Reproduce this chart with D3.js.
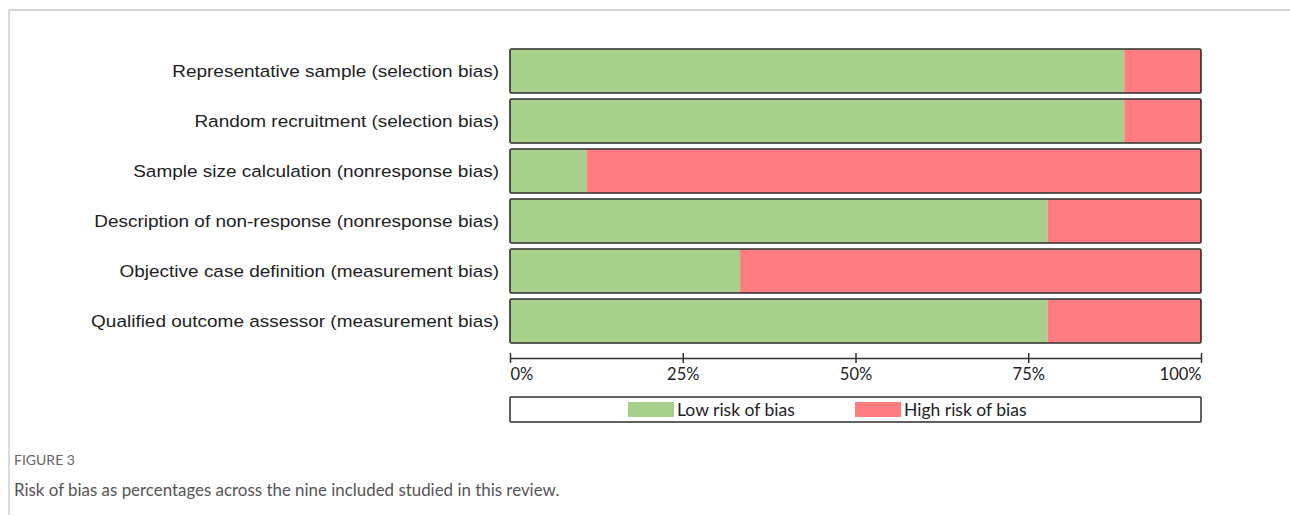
<!DOCTYPE html>
<html>
<head>
<meta charset="utf-8">
<script src="https://cdn.jsdelivr.net/npm/d3@7"></script>
<style>
  html, body { margin: 0; padding: 0; background: #fff; }
  svg { display: block; }
</style>
</head>
<body>
<svg id="chart" width="1290" height="515"></svg>
<script>
const categories = [
  "Representative sample (selection bias)",
  "Random recruitment (selection bias)",
  "Sample size calculation (nonresponse bias)",
  "Description of non-response (nonresponse bias)",
  "Objective case definition (measurement bias)",
  "Qualified outcome assessor (measurement bias)"
];
const lowRisk = [88.9, 88.9, 11.1, 77.8, 33.3, 77.8];
const highRisk = [11.1, 11.1, 88.9, 22.2, 66.7, 22.2];
const tickValues = [0, 25, 50, 75, 100];
const tickLabels = ["0%", "25%", "50%", "75%", "100%"];
const legendLabels = ["Low risk of bias", "High risk of bias"];
const colors = ["#a8d08d", "#ff7c80"];
const captionTitle = "FIGURE 3";
const captionText = "Risk of bias as percentages across the nine included studied in this review.";

const svg = d3.select("#chart");

// frame lines
svg.append("line").attr("x1", 9).attr("x2", 1290).attr("y1", 10).attr("y2", 10)
  .attr("stroke", "#c4c4c4").attr("stroke-width", 1.5);
svg.append("line").attr("x1", 9).attr("x2", 9).attr("y1", 10).attr("y2", 515)
  .attr("stroke", "#cfcfcf").attr("stroke-width", 1.5);

const x = d3.scaleLinear().domain([0, 100]).range([510, 1201]);
const y = d3.scaleBand().domain(categories).range([46, 346]).paddingInner(0.12).paddingOuter(0.06);

const rows = categories.map((c, i) => ({ cat: c, segs: [
  { start: 0, end: lowRisk[i], color: colors[0] },
  { start: lowRisk[i], end: lowRisk[i] + highRisk[i], color: colors[1] }
]}));

const g = svg.append("g");
const row = g.selectAll("g.row").data(rows).join("g").attr("class", "row");

row.selectAll("rect.seg").data(d => d.segs.map(s => ({ ...s, cat: d.cat })))
  .join("rect").attr("class", "seg")
  .attr("x", d => x(d.start))
  .attr("width", d => x(d.end) - x(d.start))
  .attr("y", d => y(d.cat))
  .attr("height", y.bandwidth())
  .attr("fill", d => d.color);

row.append("rect")
  .attr("x", x(0)).attr("width", x(100) - x(0))
  .attr("y", d => y(d.cat)).attr("height", y.bandwidth())
  .attr("fill", "none").attr("stroke", "#2e2e2e").attr("stroke-width", 1.6)
  .attr("rx", 1.5);

row.append("text")
  .attr("x", 499)
  .attr("y", d => y(d.cat) + y.bandwidth() / 2)
  .attr("dy", "0.35em")
  .attr("text-anchor", "end")
  .attr("font-family", "Liberation Sans, Arial, sans-serif")
  .attr("font-size", 16.8)
  .attr("fill", "#1e1e1e")
  .text(d => d.cat)
  .each(function() {
    const w = this.getComputedTextLength();
    d3.select(this).attr("textLength", w * 1.13).attr("lengthAdjust", "spacingAndGlyphs");
  });

// axis
const axisY = 358;
const axis = d3.axisBottom(x).tickValues(tickValues).tickSize(0)
  .tickFormat((d, i) => tickLabels[i]);
const ag = svg.append("g").attr("transform", `translate(0,${axisY})`).call(axis);
ag.select(".domain").attr("stroke", "#333").attr("stroke-width", 1.5);
ag.selectAll(".tick").append("line").attr("y1", -5).attr("y2", 5)
  .attr("stroke", "#333").attr("stroke-width", 1.5);
ag.selectAll(".tick text")
  .attr("y", 22).attr("dy", "0")
  .attr("font-family", "Lato, sans-serif").attr("font-size", 16.5).attr("fill", "#222")
  .attr("text-anchor", (d, i) => i === 0 ? "start" : (i === tickValues.length - 1 ? "end" : "middle"))
  .attr("dx", (d, i) => i === 0 ? 0 : (i === tickValues.length - 1 ? 0 : 0));

// legend
svg.append("rect").attr("x", x(0)).attr("y", 397).attr("width", x(100) - x(0)).attr("height", 25)
  .attr("fill", "#fff").attr("stroke", "#2e2e2e").attr("stroke-width", 1.5).attr("rx", 1);
const legendX = [628, 855];
legendLabels.forEach((lab, i) => {
  svg.append("rect").attr("x", legendX[i]).attr("y", 402).attr("width", 46).attr("height", 15)
    .attr("fill", colors[i]);
  svg.append("text").attr("x", legendX[i] + 49).attr("y", 416)
    .attr("font-family", "Lato, sans-serif").attr("font-size", 17.5).attr("fill", "#222")
    .text(lab);
});

// caption
svg.append("text").attr("x", 14).attr("y", 465)
  .attr("font-family", "Lato, sans-serif").attr("font-size", 14).attr("fill", "#666")
  .text(captionTitle);
svg.append("text").attr("x", 14).attr("y", 496)
  .attr("font-family", "Lato, sans-serif").attr("font-size", 16.9).attr("fill", "#555")
  .text(captionText);
</script>
</body>
</html>
